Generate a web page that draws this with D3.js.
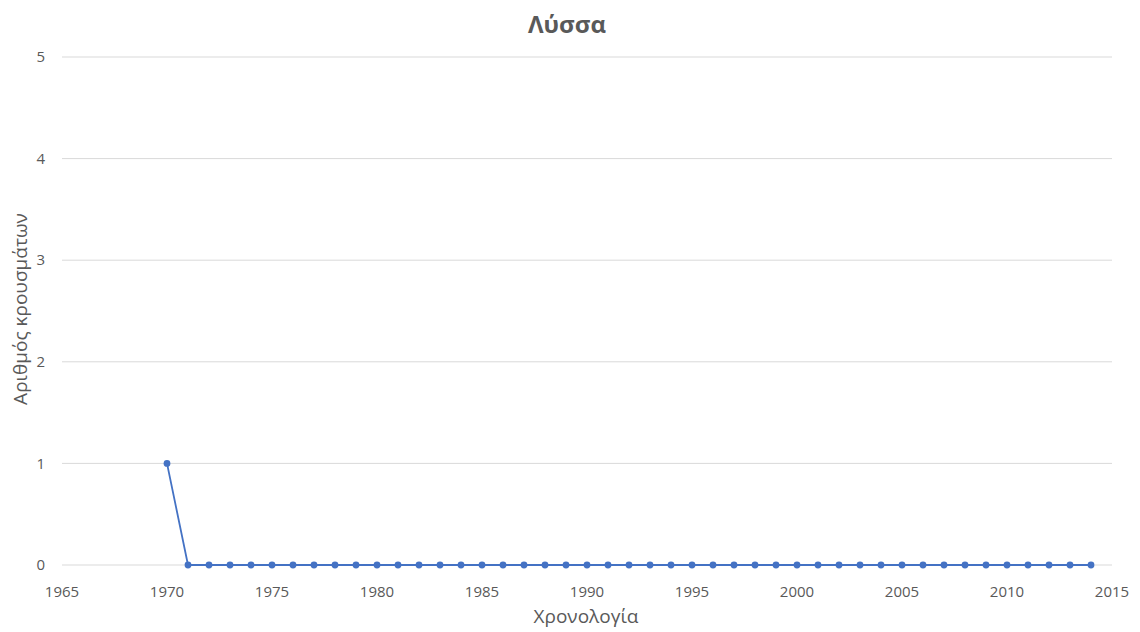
<!DOCTYPE html>
<html>
<head>
<meta charset="utf-8">
<script src="https://cdn.jsdelivr.net/npm/d3@7"></script>
<style>
  html, body { margin: 0; padding: 0; background: #fff; }
  svg text { font-family: "Open Sans", "Segoe UI", sans-serif; fill: #595959; }
</style>
</head>
<body>
<svg id="chart" width="1140" height="632"></svg>
<script>
// Rabies cases per year, 1970–2014
const years = d3.range(1970, 2015);
const cases = [1, 0, 0, 0, 0, 0, 0, 0, 0, 0,
               0, 0, 0, 0, 0, 0, 0, 0, 0, 0,
               0, 0, 0, 0, 0, 0, 0, 0, 0, 0,
               0, 0, 0, 0, 0, 0, 0, 0, 0, 0,
               0, 0, 0, 0, 0];
const xTicks = [1965, 1970, 1975, 1980, 1985, 1990, 1995, 2000, 2005, 2010, 2015];
const yTicks = [0, 1, 2, 3, 4, 5];

const title = "Λύσσα";
const xTitle = "Χρονολογία";
const yTitle = "Αριθμός κρουσμάτων";

const svg = d3.select("#chart");
const plot = { left: 62, right: 1112, top: 57, bottom: 565 };
const color = "#4472C4";

const x = d3.scaleLinear().domain([1965, 2015]).range([plot.left, plot.right]);
const y = d3.scaleLinear().domain([0, 5]).range([plot.bottom, plot.top]);

// horizontal gridlines
svg.append("g")
  .selectAll("line")
  .data(yTicks)
  .join("line")
  .attr("x1", plot.left).attr("x2", plot.right)
  .attr("y1", d => y(d)).attr("y2", d => y(d))
  .attr("stroke", "#d9d9d9").attr("stroke-width", 1);

// y axis labels
svg.append("g")
  .selectAll("text")
  .data(yTicks)
  .join("text")
  .attr("x", plot.left - 17).attr("y", d => y(d))
  .attr("dy", "0.35em")
  .attr("text-anchor", "end")
  .attr("font-size", 15)
  .text(d => d);

// x axis labels
svg.append("g")
  .selectAll("text")
  .data(xTicks)
  .join("text")
  .attr("x", d => x(d)).attr("y", plot.bottom + 32)
  .attr("text-anchor", "middle")
  .attr("font-size", 15)
  .text(d => d);

const data = years.map((yr, i) => ({ yr, v: cases[i] }));

svg.append("path")
  .datum(data)
  .attr("fill", "none")
  .attr("stroke", color)
  .attr("stroke-width", 1.8)
  .attr("d", d3.line().x(d => x(d.yr)).y(d => y(d.v)));

svg.append("g")
  .selectAll("circle")
  .data(data)
  .join("circle")
  .attr("cx", d => x(d.yr)).attr("cy", d => y(d.v))
  .attr("r", 3.4)
  .attr("fill", color);

// titles
svg.append("text")
  .attr("x", 567).attr("y", 33)
  .attr("text-anchor", "middle")
  .attr("font-size", 24).attr("font-weight", "bold")
  .text(title);

svg.append("text")
  .attr("x", 586).attr("y", 623)
  .attr("text-anchor", "middle")
  .attr("font-size", 19)
  .text(xTitle);

svg.append("text")
  .attr("transform", "translate(27,309) rotate(-90)")
  .attr("text-anchor", "middle")
  .attr("font-size", 19)
  .text(yTitle);
</script>
</body>
</html>
